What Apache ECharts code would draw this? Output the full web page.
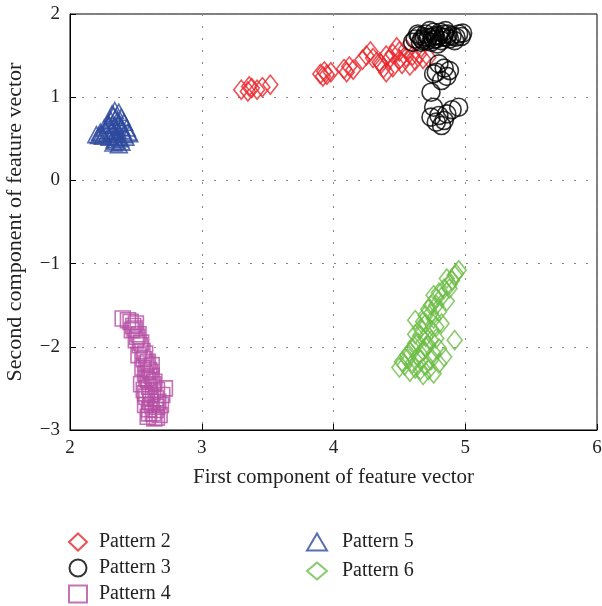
<!DOCTYPE html>
<html>
<head>
<meta charset="utf-8">
<script src="https://cdn.jsdelivr.net/npm/echarts@6/dist/echarts.min.js"></script>
<style>
  html, body { margin: 0; padding: 0; background: #fff; }
  #main { width: 602px; height: 606px; }
</style>
</head>
<body>
<div id="main"></div>
<script>
// feature vector points, [first component, second component]
var pattern2 = [
  [3.30, 1.09], [3.35, 1.07], [3.38, 1.11], [3.42, 1.09], [3.46, 1.12], [3.52, 1.15], [3.36, 1.13],
  [3.90, 1.28], [3.93, 1.31], [3.95, 1.27], [3.98, 1.30], [3.92, 1.25],
  [4.08, 1.34], [4.12, 1.37], [4.15, 1.33], [4.10, 1.30],
  [4.25, 1.50], [4.28, 1.55], [4.30, 1.47], [4.22, 1.45],
  [4.35, 1.42], [4.38, 1.35], [4.40, 1.30], [4.42, 1.45], [4.45, 1.52], [4.48, 1.60],
  [4.50, 1.55], [4.52, 1.40], [4.55, 1.48], [4.58, 1.38], [4.60, 1.50], [4.62, 1.44],
  [4.65, 1.52], [4.68, 1.46], [4.72, 1.48], [4.45, 1.36], [4.55, 1.58], [4.50, 1.45],
  [4.40, 1.50], [4.36, 1.40]
];
var pattern3 = [
  [4.62, 1.70], [4.65, 1.74], [4.68, 1.68], [4.70, 1.76], [4.72, 1.72], [4.74, 1.66],
  [4.76, 1.78], [4.78, 1.70], [4.80, 1.74], [4.82, 1.68], [4.84, 1.76], [4.86, 1.72],
  [4.88, 1.70], [4.90, 1.74], [4.92, 1.68], [4.95, 1.76], [4.98, 1.77], [4.66, 1.66],
  [4.73, 1.80], [4.79, 1.64], [4.85, 1.80], [4.69, 1.72], [4.76, 1.69], [4.83, 1.72],
  [4.60, 1.66], [4.64, 1.76], [4.71, 1.68], [4.77, 1.74], [4.81, 1.78], [4.87, 1.76],
  [4.93, 1.72], [4.97, 1.73], [4.75, 1.72], [4.67, 1.70],
  [4.80, 1.40], [4.84, 1.35], [4.78, 1.30], [4.86, 1.25], [4.82, 1.20], [4.76, 1.28],
  [4.88, 1.32], [4.74, 1.06],
  [4.76, 0.88], [4.80, 0.78], [4.84, 0.72], [4.78, 0.70], [4.90, 0.85], [4.95, 0.88],
  [4.86, 0.80], [4.74, 0.76], [4.82, 0.66]
];
var pattern4 = [
  [2.40, -1.66], [2.46, -1.70], [2.48, -1.75], [2.50, -1.72], [2.47, -1.80], [2.52, -1.85],
  [2.50, -1.92], [2.53, -1.98], [2.55, -2.05], [2.52, -2.10], [2.56, -2.15], [2.58, -2.20],
  [2.55, -2.25], [2.60, -2.28], [2.57, -2.32], [2.62, -2.35], [2.59, -2.40], [2.64, -2.42],
  [2.60, -2.48], [2.72, -2.50], [2.56, -2.52], [2.63, -2.55], [2.70, -2.58], [2.58, -2.60],
  [2.65, -2.62], [2.61, -2.66], [2.57, -2.70], [2.66, -2.72], [2.60, -2.75], [2.63, -2.80],
  [2.68, -2.82], [2.59, -2.84], [2.64, -2.86], [2.54, -2.45], [2.62, -2.22],
  [2.44, -1.68], [2.49, -1.78], [2.51, -1.88], [2.54, -1.95], [2.57, -2.08], [2.59, -2.18],
  [2.61, -2.30], [2.58, -2.38], [2.63, -2.45], [2.66, -2.52], [2.61, -2.58], [2.67, -2.66],
  [2.62, -2.70], [2.65, -2.76], [2.60, -2.80], [2.66, -2.85], [2.57, -2.56], [2.69, -2.70]
];
var pattern5 = [
  [2.34, 0.84], [2.37, 0.82], [2.33, 0.78], [2.39, 0.76], [2.31, 0.72], [2.36, 0.72],
  [2.41, 0.70], [2.29, 0.68], [2.34, 0.66], [2.39, 0.64], [2.43, 0.63], [2.26, 0.63],
  [2.31, 0.60], [2.36, 0.60], [2.44, 0.58], [2.23, 0.58], [2.28, 0.56], [2.34, 0.55],
  [2.41, 0.55], [2.20, 0.55], [2.25, 0.53], [2.38, 0.50], [2.35, 0.47], [2.37, 0.43],
  [2.33, 0.45], [2.32, 0.80], [2.35, 0.76], [2.30, 0.66], [2.37, 0.68], [2.27, 0.60],
  [2.33, 0.58], [2.40, 0.60], [2.24, 0.56], [2.30, 0.52], [2.36, 0.52], [2.42, 0.52],
  [2.39, 0.46], [2.34, 0.49], [2.22, 0.54], [2.45, 0.56]
];
var pattern6 = [
  [4.95, -1.08], [4.92, -1.14], [4.90, -1.20], [4.88, -1.25], [4.86, -1.18], [4.84, -1.30],
  [4.80, -1.35], [4.78, -1.42], [4.76, -1.38], [4.74, -1.50], [4.72, -1.55], [4.80, -1.58],
  [4.70, -1.62], [4.76, -1.66], [4.68, -1.70], [4.82, -1.72], [4.66, -1.78], [4.74, -1.80],
  [4.62, -1.85], [4.70, -1.88], [4.78, -1.90], [4.92, -1.92], [4.64, -1.95], [4.72, -1.98],
  [4.60, -2.02], [4.68, -2.05], [4.76, -2.08], [4.56, -2.10], [4.64, -2.12], [4.84, -2.12],
  [4.52, -2.18], [4.60, -2.20], [4.70, -2.22], [4.50, -2.25], [4.66, -2.28], [4.76, -2.32],
  [4.58, -2.30], [4.80, -2.20], [4.62, -1.68], [4.86, -1.45],
  [4.93, -1.12], [4.88, -1.30], [4.82, -1.40], [4.78, -1.50], [4.74, -1.60], [4.70, -1.72],
  [4.78, -1.76], [4.66, -1.86], [4.74, -1.92], [4.62, -1.96], [4.70, -2.00], [4.58, -2.06],
  [4.66, -2.16], [4.74, -2.16], [4.54, -2.22], [4.62, -2.26], [4.72, -2.28], [4.56, -2.14],
  [4.80, -2.02], [4.68, -2.34]
];

var legendLeft = ['Pattern 2', 'Pattern 3', 'Pattern 4'];
var legendRight = ['Pattern 5', 'Pattern 6'];

var serif = '"Liberation Serif", "DejaVu Serif", serif';

function hollow(name, data, symbol, size, color) {
  return {
    name: name,
    type: 'scatter',
    data: data,
    symbol: symbol,
    symbolSize: size,
    itemStyle: {
      color: 'rgba(0,0,0,0)',
      borderColor: color,
      borderWidth: 1.6
    },
    emphasis: { disabled: true }
  };
}

// real minus sign on the tick labels
function minus(v) {
  return String(v).replace('-', '\u2212');
}

var chart = echarts.init(document.getElementById('main'));

chart.setOption({
  animation: false,
  grid: {
    left: 70,
    right: 5,
    top: 14,
    bottom: 176,
    outerBoundsMode: 'none',
    show: true,
    borderColor: '#000',
    borderWidth: 1
  },
  legend: [
    {
      data: legendLeft,
      orient: 'vertical',
      left: 68,
      top: 532,
      height: 80,
      padding: 0,
      itemWidth: 18,
      itemHeight: 17,
      itemGap: 6,
      textStyle: { fontFamily: serif, fontSize: 20, color: '#222', padding: [0, 0, 0, 7] }
    },
    {
      data: legendRight,
      orient: 'vertical',
      left: 306,
      top: 532,
      height: 80,
      padding: 0,
      itemWidth: 20,
      itemHeight: 17,
      itemGap: 9,
      textStyle: { fontFamily: serif, fontSize: 20, color: '#222', padding: [0, 0, 0, 10] }
    }
  ],
  xAxis: {
    type: 'value',
    min: 2,
    max: 6,
    interval: 1,
    name: 'First component of feature vector',
    nameLocation: 'middle',
    nameGap: 37,
    nameTextStyle: { fontFamily: serif, fontSize: 21, color: '#222' },
    axisLine: { onZero: false, lineStyle: { color: '#000', width: 1 } },
    axisTick: { inside: true, length: 6, lineStyle: { color: '#000' } },
    axisLabel: { fontFamily: serif, fontSize: 19, color: '#222', margin: 9 },
    splitLine: { lineStyle: { color: '#888', type: [2, 10], width: 1 } }
  },
  yAxis: {
    type: 'value',
    min: -3,
    max: 2,
    interval: 1,
    name: 'Second component of feature vector',
    nameLocation: 'middle',
    nameGap: 44,
    nameTextStyle: { fontFamily: serif, fontSize: 22, color: '#222' },
    axisLine: { onZero: false, lineStyle: { color: '#000', width: 1 } },
    axisTick: { inside: true, length: 6, lineStyle: { color: '#000' } },
    axisLabel: { fontFamily: serif, fontSize: 19, color: '#222', margin: 10, formatter: minus },
    splitLine: { lineStyle: { color: '#888', type: [2, 10], width: 1 } }
  },
  series: [
    hollow('Pattern 2', pattern2, 'diamond', [15, 19], '#e8262a'),
    hollow('Pattern 3', pattern3, 'circle', 18, '#000000'),
    hollow('Pattern 4', pattern4, 'rect', 15, '#b54fa4'),
    hollow('Pattern 5', pattern5, 'triangle', [17, 16], '#2e4a9e'),
    hollow('Pattern 6', pattern6, 'diamond', [15, 19], '#6bbd45')
  ]
});
</script>
</body>
</html>
